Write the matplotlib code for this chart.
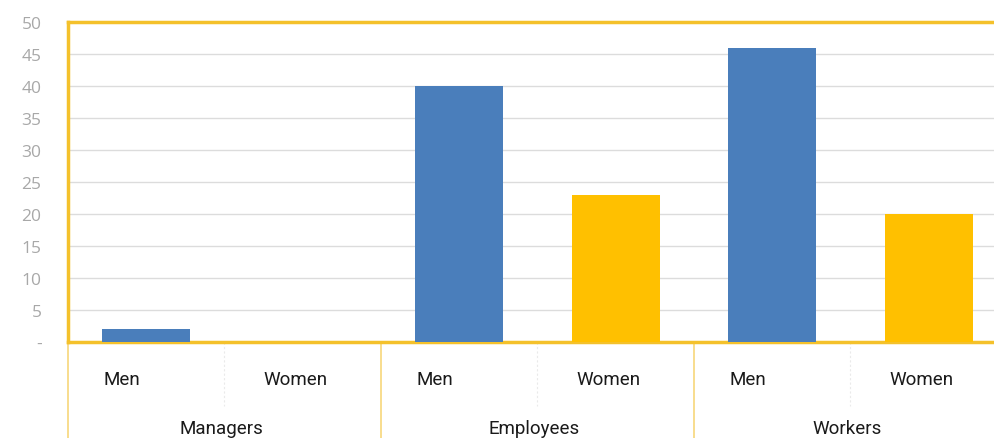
import matplotlib
matplotlib.use("Agg")
import matplotlib.pyplot as plt
from matplotlib.lines import Line2D

# Share of staff by job category and gender
groups = ["Managers", "Employees", "Workers"]
genders = ["Men", "Women"]
values = [2, 0, 40, 23, 46, 20]
yticks = [0, 5, 10, 15, 20, 25, 30, 35, 40, 45, 50]
ytick_labels = ["-", "5", "10", "15", "20", "25", "30", "35", "40", "45", "50"]

BLUE = "#4A7EBB"
GOLD = "#FFC000"
FRAME = "#F4C12B"

W, H = 995, 439
fig = plt.figure(figsize=(W / 100, H / 100), dpi=100)
ax = fig.add_axes([68 / W, (H - 343) / H, (1007 - 68) / W, 320 / H])

colors = [BLUE if i % 2 == 0 else GOLD for i in range(len(values))]
xs = list(range(len(values)))
ax.bar(xs, values, width=0.56, color=colors, zorder=3)

ax.set_xlim(-0.5, len(values) - 0.5)
ax.set_ylim(0, 50)
ax.set_yticks(yticks)
ax.set_yticklabels(ytick_labels, color="#A8A8A8", fontsize=12.5, family="Open Sans")
ax.tick_params(axis="y", length=0, pad=19)
ax.tick_params(axis="x", length=0, labelbottom=False)
ax.yaxis.grid(True, color="#DCDCDC", linewidth=1, zorder=0)
ax.set_axisbelow(True)

for side in ("top", "left", "bottom"):
    ax.spines[side].set_color(FRAME)
    ax.spines[side].set_linewidth(2.5)
ax.spines["right"].set_visible(False)

# Category labels below the axis
tr = ax.get_xaxis_transform()
for i, v in enumerate(values):
    name = genders[i % 2]
    shift = -0.155 if name == "Men" else -0.045
    ax.text(i + shift, -0.115, name, transform=tr, ha="center", va="center",
            fontsize=13.5, family="Roboto", color="#1A1A1A", clip_on=False)

# Group labels and separators
for g, name in enumerate(groups):
    centre = 2 * g + 0.5
    ax.text(centre - 0.02, -0.27, name, transform=tr, ha="center", va="center",
            fontsize=13.5, family="Roboto", color="#1A1A1A", clip_on=False)

for g in range(len(groups) + 1):
    x = 2 * g - 0.5
    ax.add_line(Line2D([x, x], [0, -0.35], transform=tr, color="#F7D77A",
                       linewidth=1.2, clip_on=False))
for g in range(len(groups)):
    x = 2 * g + 0.5
    ax.add_line(Line2D([x, x], [0, -0.2], transform=tr, color="#EAEAEA",
                       linewidth=0.8, linestyle=(0, (2, 2)), clip_on=False))

fig.savefig("out.png", dpi=100)
